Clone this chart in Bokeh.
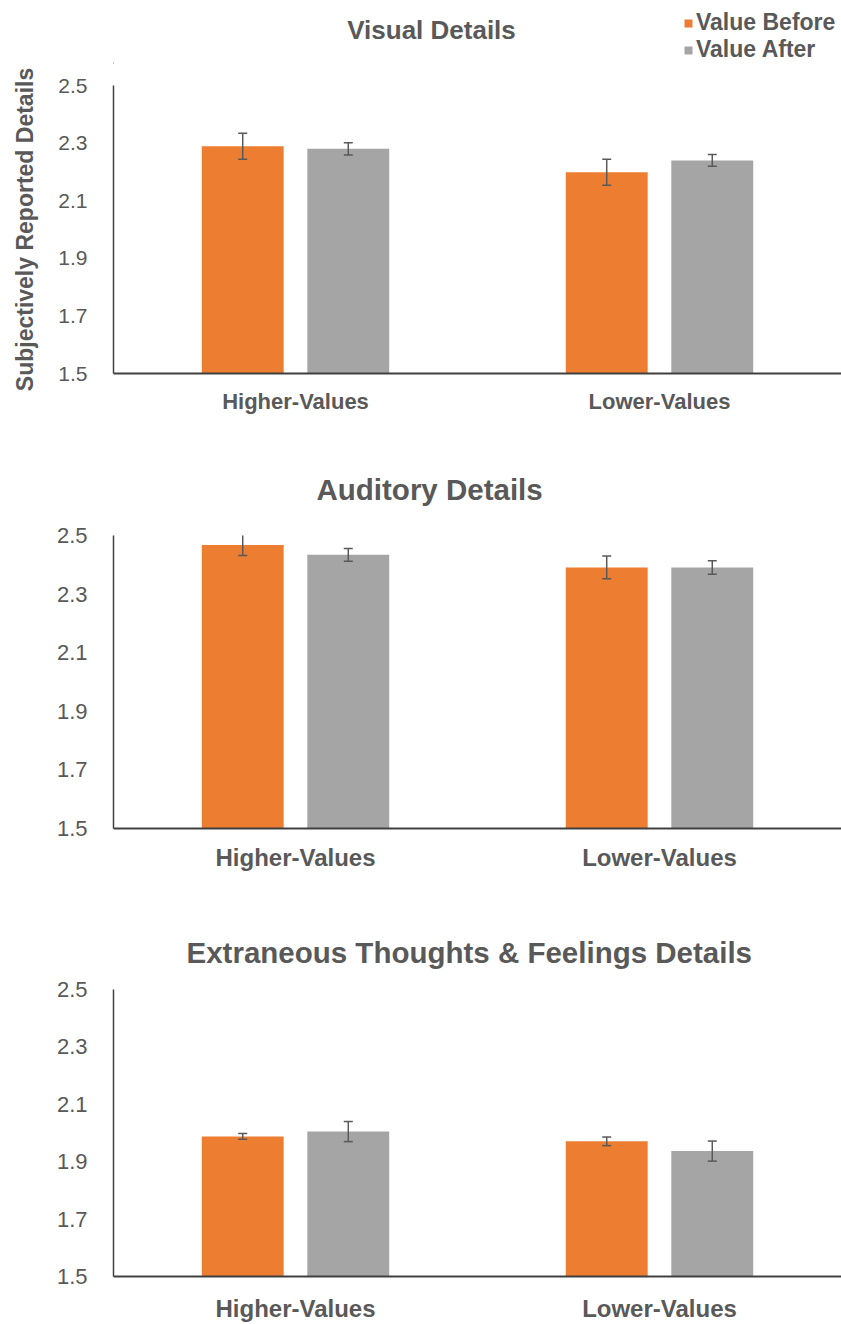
from bokeh.plotting import figure
from bokeh.models import (ColumnDataSource, FactorRange, Range1d, FixedTicker,
                          NumeralTickFormatter, Whisker, TeeHead, Legend, LegendItem, Label)
from bokeh.transform import dodge
from bokeh.layouts import column
from bokeh.embed import file_html
from bokeh.resources import INLINE

categories = ["Higher-Values", "Lower-Values"]
series = ["Value Before", "Value After"]
titles = ["Visual Details", "Auditory Details", "Extraneous Thoughts & Feelings Details"]
y_label = "Subjectively Reported Details"
y_ticks = [1.5, 1.7, 1.9, 2.1, 2.3, 2.5]

visual_before = [2.289, 2.199]
visual_after = [2.280, 2.240]
visual_before_err = [0.045, 0.045]
visual_after_err = [0.021, 0.020]

auditory_before = [2.468, 2.391]
auditory_after = [2.434, 2.391]
auditory_before_err = [0.036, 0.039]
auditory_after_err = [0.022, 0.023]

extraneous_before = [1.988, 1.971]
extraneous_after = [2.005, 1.937]
extraneous_before_err = [0.010, 0.015]
extraneous_after_err = [0.035, 0.035]

ORANGE = "#ED7D31"
GREY = "#A5A5A5"
TEXT = "#595959"
AXIS = "#404040"
FONT = "Liberation Sans"
LEFT = 113  # left border shared by all aligned frames

# ---- header strip: first panel's title and the legend ----
HEAD_H = 64
head = figure(width=841, height=HEAD_H, output_backend="svg", toolbar_location=None,
              x_range=Range1d(LEFT, 841), y_range=Range1d(0, HEAD_H),
              x_axis_type=None, y_axis_type=None, title=None,
              min_border_left=LEFT, min_border_right=0, min_border_top=0, min_border_bottom=0)
head.outline_line_color = None
head.grid.grid_line_color = None
head.add_layout(Label(x=431, y=HEAD_H - 29, text=titles[0], text_align="center",
                      text_baseline="middle", text_font=FONT, text_font_size="26px",
                      text_font_style="bold", text_color=TEXT))
# legend key renderers: the first panel's values, which fall outside this strip's
# visible range, so only their legend swatches show
key_src = ColumnDataSource(dict(before=visual_before, after=visual_after))
d1 = head.vbar(x="before", top="before", width=0.1, source=key_src,
               fill_color=ORANGE, line_color=None)
d2 = head.vbar(x="after", top="after", width=0.1, source=key_src,
               fill_color=GREY, line_color=None)
head.add_layout(Legend(items=[LegendItem(label=series[0], renderers=[d1]),
                              LegendItem(label=series[1], renderers=[d2])],
                       location=(570, 1), orientation="vertical",
                       glyph_width=10, glyph_height=10, label_standoff=3,
                       spacing=0, padding=0, margin=0,
                       border_line_color=None, background_fill_alpha=0,
                       label_text_font=FONT, label_text_font_size="23px",
                       label_text_font_style="bold", label_text_color=TEXT,
                       label_height=22))

panels = [
    dict(title=None, before=visual_before, after=visual_after,
         be=visual_before_err, ae=visual_after_err,
         height=376, top=21, bottom=67,
         t_size="26px", t_left=0, t_stand=0,
         lab_size="22px", lab_stand=9, tick_size="21px", ylabel=True),
    dict(title=titles[1], before=auditory_before, after=auditory_after,
         be=auditory_before_err, ae=auditory_after_err,
         height=450, top=95, bottom=62,
         t_size="29.5px", t_left=203, t_stand=60,
         lab_size="24px", lab_stand=9, tick_size="22px", ylabel=False),
    dict(title=titles[2], before=extraneous_before, after=extraneous_after,
         be=extraneous_before_err, ae=extraneous_after_err,
         height=434, top=99, bottom=43,
         t_size="29.5px", t_left=73, t_stand=41,
         lab_size="24px", lab_stand=12, tick_size="22px", ylabel=False),
]

figs = [head]
for spec in panels:
    src = ColumnDataSource(dict(
        cat=categories,
        before=spec["before"],
        after=spec["after"],
        b_up=[v + e for v, e in zip(spec["before"], spec["be"])],
        b_lo=[v - e for v, e in zip(spec["before"], spec["be"])],
        a_up=[v + e for v, e in zip(spec["after"], spec["ae"])],
        a_lo=[v - e for v, e in zip(spec["after"], spec["ae"])],
    ))
    p = figure(x_range=FactorRange(*categories), y_range=Range1d(1.5, 2.5),
               width=841, height=spec["height"], output_backend="svg",
               toolbar_location=None, min_border_left=LEFT,
               min_border_right=0, min_border_top=spec["top"],
               min_border_bottom=spec["bottom"], title=spec["title"])
    p.outline_line_color = None
    p.grid.grid_line_color = None
    p.background_fill_color = "white"

    p.vbar(x=dodge("cat", -0.145, range=p.x_range), top="before", bottom=1.5,
           width=0.225, source=src, fill_color=ORANGE, line_color=None)
    p.vbar(x=dodge("cat", 0.145, range=p.x_range), top="after", bottom=1.5,
           width=0.225, source=src, fill_color=GREY, line_color=None)

    for off, up, lo in [(-0.145, "b_up", "b_lo"), (0.145, "a_up", "a_lo")]:
        w = Whisker(source=src, base=dodge("cat", off, range=p.x_range),
                    upper=up, lower=lo, line_color=TEXT, line_width=1.5,
                    level="overlay",
                    upper_head=TeeHead(size=9, line_color=TEXT, line_width=1.5),
                    lower_head=TeeHead(size=9, line_color=TEXT, line_width=1.5))
        p.add_layout(w)

    if spec["title"]:
        p.title.align = "left"
        p.title.offset = spec["t_left"]
        p.title.standoff = spec["t_stand"]
        p.title.text_font = FONT
        p.title.text_font_size = spec["t_size"]
        p.title.text_font_style = "bold"
        p.title.text_color = TEXT

    xa = p.xaxis[0]
    xa.axis_line_color = AXIS
    xa.axis_line_width = 2
    xa.major_tick_line_color = None
    xa.minor_tick_line_color = None
    xa.major_label_text_font = FONT
    xa.major_label_text_font_size = spec["lab_size"]
    xa.major_label_text_font_style = "bold"
    xa.major_label_text_color = TEXT
    xa.major_label_standoff = spec["lab_stand"]

    ya = p.yaxis[0]
    ya.ticker = FixedTicker(ticks=y_ticks)
    ya.formatter = NumeralTickFormatter(format="0.0")
    ya.axis_line_color = AXIS
    ya.axis_line_width = 1.5
    ya.major_tick_line_color = None
    ya.minor_tick_line_color = None
    ya.major_label_text_font = FONT
    ya.major_label_text_font_size = spec["tick_size"]
    ya.major_label_text_color = TEXT
    ya.major_label_standoff = 20
    if spec["ylabel"]:
        ya.axis_label = y_label
        ya.axis_label_text_font = FONT
        ya.axis_label_text_font_size = "23px"
        ya.axis_label_text_font_style = "bold"
        ya.axis_label_text_color = TEXT
        ya.axis_label_standoff = 17
    figs.append(p)

layout = column(*figs, spacing=0)
open("out.html", "w").write(file_html(layout, INLINE))
